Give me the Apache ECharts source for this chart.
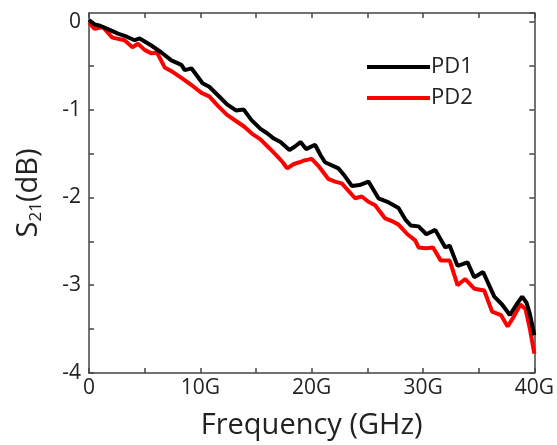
<!DOCTYPE html>
<html>
<head>
<meta charset="utf-8">
<script src="https://cdn.jsdelivr.net/npm/echarts@6/dist/echarts.min.js"></script>
<style>html,body{margin:0;padding:0;background:#fff;}#c{width:557px;height:445px;}</style>
</head>
<body>
<div id="c"></div>
<script>
const pd1Freq = [0,0.5,1.0,1.8,2.6,3.4,4.1,4.55,5.6,6.5,7.4,8.3,8.6,9.2,10.2,10.8,11.6,12.4,13.2,13.9,14.6,15.4,16.0,16.6,17.2,18.0,18.5,19.0,19.5,20.3,20.8,21.2,22.4,23.0,23.6,24.3,25.1,26.0,26.8,27.8,28.4,28.9,29.6,30.3,31.1,32.0,32.4,33.1,34.0,34.6,35.4,36.4,37.1,37.8,38.4,38.9,39.3,39.6,40.0];
const pd1Val = [0.02,-0.03,-0.045,-0.09,-0.135,-0.17,-0.21,-0.19,-0.27,-0.35,-0.44,-0.49,-0.55,-0.53,-0.70,-0.74,-0.84,-0.94,-1.01,-1.00,-1.12,-1.22,-1.27,-1.33,-1.37,-1.46,-1.42,-1.37,-1.45,-1.40,-1.52,-1.60,-1.67,-1.76,-1.87,-1.86,-1.82,-2.01,-2.05,-2.12,-2.25,-2.32,-2.33,-2.42,-2.37,-2.57,-2.55,-2.78,-2.74,-2.91,-2.85,-3.13,-3.22,-3.34,-3.22,-3.13,-3.20,-3.33,-3.57];
const pd2Freq = [0,0.5,1.25,2.1,3.2,3.9,4.4,5.0,5.6,6.1,6.8,7.5,8.3,9.2,10.1,10.8,11.6,12.4,13.2,13.9,14.6,15.4,16.2,16.9,17.4,17.8,18.4,18.9,19.3,19.7,20.0,20.6,21.5,22.1,22.7,23.9,24.5,25.1,25.7,26.6,27.2,27.8,28.6,29.3,29.6,30.3,30.9,31.6,32.4,33.1,33.8,34.6,35.5,36.2,37.0,37.6,38.0,38.75,39.2,39.6,40.0];
const pd2Val = [-0.01,-0.08,-0.06,-0.18,-0.21,-0.29,-0.25,-0.32,-0.36,-0.35,-0.52,-0.57,-0.64,-0.72,-0.81,-0.85,-0.96,-1.06,-1.13,-1.19,-1.27,-1.34,-1.44,-1.53,-1.60,-1.67,-1.62,-1.60,-1.58,-1.57,-1.56,-1.64,-1.79,-1.82,-1.84,-2.01,-1.99,-2.05,-2.09,-2.24,-2.27,-2.31,-2.42,-2.49,-2.57,-2.58,-2.57,-2.72,-2.72,-3.00,-2.93,-3.04,-3.06,-3.30,-3.34,-3.47,-3.39,-3.22,-3.27,-3.50,-3.78];
const seriesNames = ['PD1','PD2'];
const xTickLabels = ['0','10G','20G','30G','40G'];
const yTickLabels = ['0','-1','-2','-3','-4'];

const FONT = 'Open Sans';
const axisColor = '#444';
const textColor = '#222';

const chart = echarts.init(document.getElementById('c'), null, {renderer:'canvas'});
const zip = (a,b) => a.map((v,i)=>[v,b[i]]);
const baseX = {
  type:'value', min:0, max:40, interval:5,
  axisLine:{show:true, onZero:false, lineStyle:{color:axisColor, width:1.5}},
  axisTick:{show:true, inside:true, length:5, lineStyle:{color:axisColor, width:1.5}},
  splitLine:{show:false}
};
const baseY = {
  type:'value', min:-4, max:0.1, interval:0.5,
  axisLine:{show:true, onZero:false, lineStyle:{color:axisColor, width:1.5}},
  axisTick:{show:true, inside:true, length:5, lineStyle:{color:axisColor, width:1.5}},
  splitLine:{show:false}
};
chart.setOption({
  animation:false,
  backgroundColor:'#fff',
  grid:{left:89, right:20, top:13, bottom:68, containLabel:false},
  legend:{
    orient:'vertical', left:362, top:51, itemWidth:63, itemHeight:4, itemGap:9,
    icon:'rect',
    textStyle:{fontFamily:FONT, fontSize:22, color:textColor, padding:[0,0,0,-4]},
    data:seriesNames
  },
  xAxis:[
    Object.assign({}, baseX, {
      position:'bottom',
      name:'Frequency (GHz)', nameLocation:'middle', nameGap:38,
      nameTextStyle:{fontFamily:FONT, fontSize:29, color:textColor},
      axisLabel:{show:true, margin:5, fontFamily:FONT, fontSize:21, color:textColor,
        formatter:v => (v % 10 === 0) ? xTickLabels[v/10] : ''}
    }),
    Object.assign({}, baseX, {position:'top', axisLabel:{show:false}})
  ],
  yAxis:[
    Object.assign({}, baseY, {
      position:'left',
      name:'{a|S}{b|21}{a|(dB)}', nameLocation:'middle', nameGap:44, nameRotate:90,
      nameTextStyle:{fontFamily:FONT, color:textColor,
        rich:{a:{fontFamily:FONT, fontSize:29, color:textColor},
              b:{fontFamily:FONT, fontSize:17, color:textColor, padding:[16,0,0,0]}}},
      axisLabel:{show:true, margin:8, fontFamily:FONT, fontSize:21, color:textColor, showMaxLabel:false,
        formatter:v => (Math.abs(v - Math.round(v)) < 1e-9 && v <= 0) ? yTickLabels[-Math.round(v)] : ''}
    }),
    Object.assign({}, baseY, {position:'right', axisLabel:{show:false}})
  ],
  series:[
    {name:seriesNames[0], type:'line', data:zip(pd1Freq,pd1Val), showSymbol:false, symbol:'none',
     lineStyle:{color:'#000', width:4}, itemStyle:{color:'#000'}, z:3},
    {name:seriesNames[1], type:'line', data:zip(pd2Freq,pd2Val), showSymbol:false, symbol:'none',
     lineStyle:{color:'#ff0000', width:4}, itemStyle:{color:'#ff0000'}, z:2}
  ]
});
</script>
</body>
</html>
